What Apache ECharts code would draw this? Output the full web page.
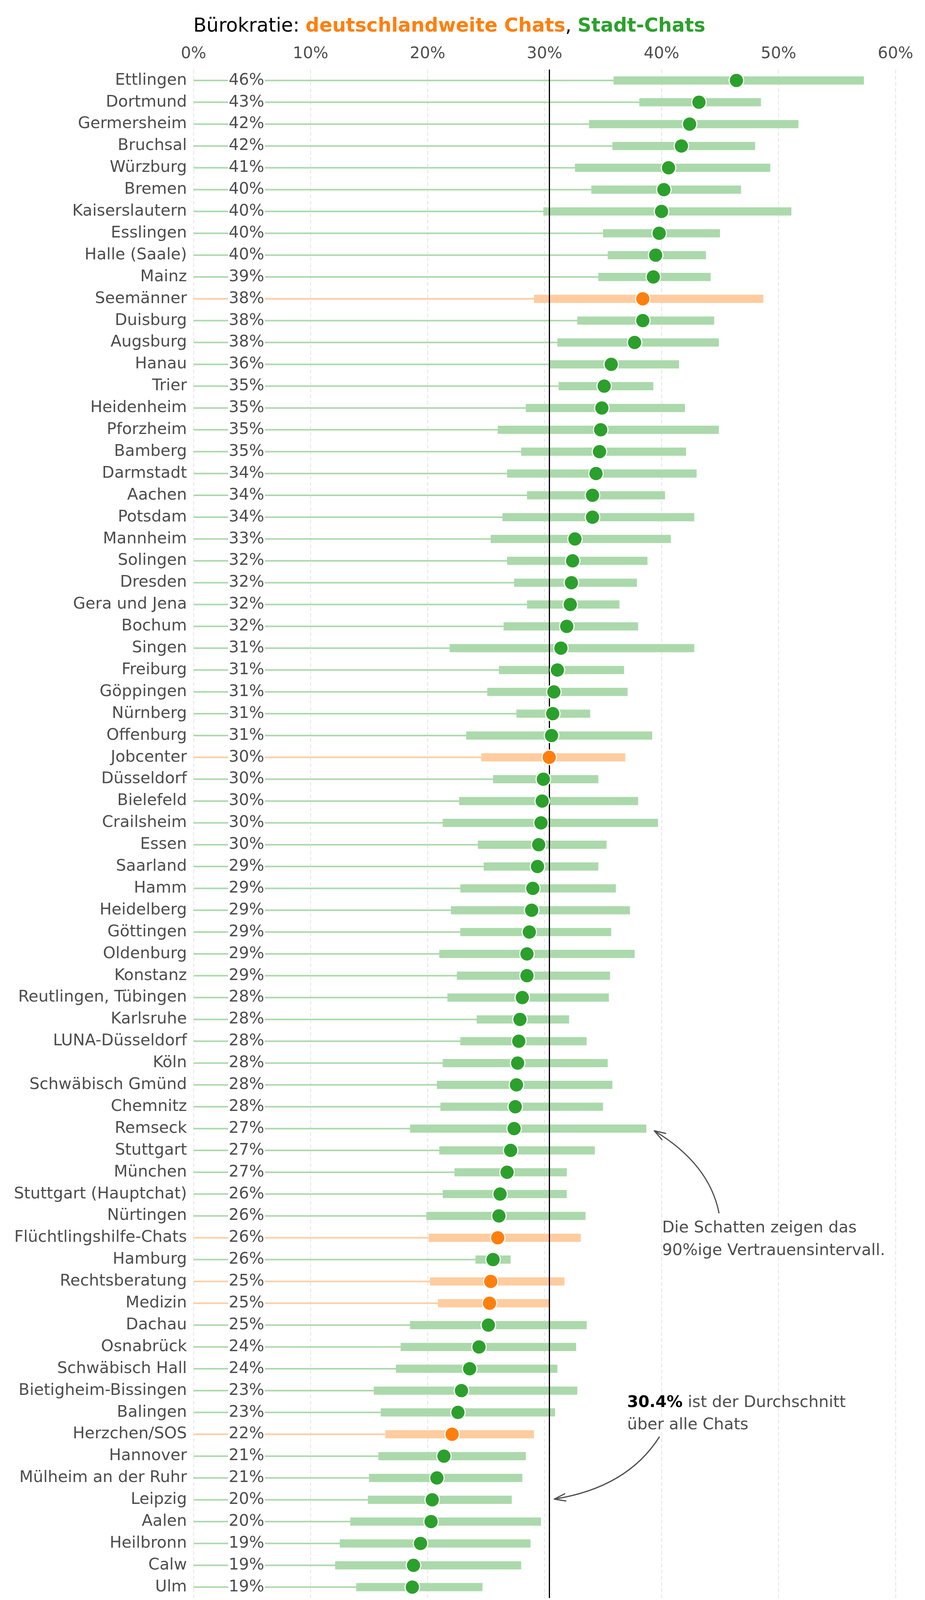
<!DOCTYPE html>
<html>
<head>
<meta charset="utf-8">
<script src="https://cdn.jsdelivr.net/npm/echarts@6/dist/echarts.min.js"></script>
<style>
  html, body { margin: 0; padding: 0; background: #fff; }
  #chart { width: 2368px; height: 4178px; }
</style>
</head>
<body>
<div id="chart"></div>
<script>
// Bürokratie-Anteil je Chat, Punkt = Schätzwert, Balken = 90%-Vertrauensintervall
var names = [
  "Ettlingen", "Dortmund", "Germersheim", "Bruchsal", "Würzburg", "Bremen",
  "Kaiserslautern", "Esslingen", "Halle (Saale)", "Mainz", "Seemänner", "Duisburg",
  "Augsburg", "Hanau", "Trier", "Heidenheim", "Pforzheim", "Bamberg", "Darmstadt",
  "Aachen", "Potsdam", "Mannheim", "Solingen", "Dresden", "Gera und Jena", "Bochum",
  "Singen", "Freiburg", "Göppingen", "Nürnberg", "Offenburg", "Jobcenter",
  "Düsseldorf", "Bielefeld", "Crailsheim", "Essen", "Saarland", "Hamm", "Heidelberg",
  "Göttingen", "Oldenburg", "Konstanz", "Reutlingen, Tübingen", "Karlsruhe",
  "LUNA-Düsseldorf", "Köln", "Schwäbisch Gmünd", "Chemnitz", "Remseck", "Stuttgart",
  "München", "Stuttgart (Hauptchat)", "Nürtingen", "Flüchtlingshilfe-Chats", "Hamburg",
  "Rechtsberatung", "Medizin", "Dachau", "Osnabrück", "Schwäbisch Hall",
  "Bietigheim-Bissingen", "Balingen", "Herzchen/SOS", "Hannover", "Mülheim an der Ruhr",
  "Leipzig", "Aalen", "Heilbronn", "Calw", "Ulm"
];
// deutschlandweite Chats (orange)
var nationalChats = ["Seemänner", "Jobcenter", "Flüchtlingshilfe-Chats", "Rechtsberatung", "Medizin", "Herzchen/SOS"];

var values = [
  46.4, 43.2, 42.4, 41.7, 40.6, 40.2, 40.0, 39.8, 39.5, 39.3,
  38.4, 38.4, 37.7, 35.7, 35.1, 34.9, 34.8, 34.7, 34.4, 34.1,
  34.1, 32.6, 32.4, 32.3, 32.2, 31.9, 31.4, 31.1, 30.8, 30.7,
  30.6, 30.4, 29.9, 29.8, 29.7, 29.5, 29.4, 29.0, 28.9, 28.7,
  28.5, 28.5, 28.1, 27.9, 27.8, 27.7, 27.6, 27.5, 27.4, 27.1,
  26.8, 26.2, 26.1, 26.0, 25.6, 25.4, 25.3, 25.2, 24.4, 23.6,
  22.9, 22.6, 22.1, 21.4, 20.8, 20.4, 20.3, 19.4, 18.8, 18.7
];
var ciLow = [
  35.9, 38.1, 33.8, 35.8, 32.6, 34.0, 29.9, 35.0, 35.4, 34.6,
  29.1, 32.8, 31.1, 30.4, 31.2, 28.4, 26.0, 28.0, 26.8, 28.5,
  26.4, 25.4, 26.8, 27.4, 28.5, 26.5, 21.9, 26.1, 25.1, 27.6,
  23.3, 24.6, 25.6, 22.7, 21.3, 24.3, 24.8, 22.8, 22.0, 22.8,
  21.0, 22.5, 21.7, 24.2, 22.8, 21.3, 20.8, 21.1, 18.5, 21.0,
  22.3, 21.3, 19.9, 20.1, 24.1, 20.2, 20.9, 18.5, 17.7, 17.3,
  15.4, 16.0, 16.4, 15.8, 15.0, 14.9, 13.4, 12.5, 12.1, 13.9
];
var ciHigh = [
  57.3, 48.5, 51.7, 48.0, 49.3, 46.8, 51.1, 45.0, 43.8, 44.2,
  48.7, 44.5, 44.9, 41.5, 39.3, 42.0, 44.9, 42.1, 43.0, 40.3,
  42.8, 40.8, 38.8, 37.9, 36.4, 38.0, 42.8, 36.8, 37.1, 33.9,
  39.2, 36.9, 34.6, 38.0, 39.7, 35.3, 34.6, 36.1, 37.3, 35.7,
  37.7, 35.6, 35.5, 32.1, 33.6, 35.4, 35.8, 35.0, 38.7, 34.3,
  31.9, 31.9, 33.5, 33.1, 27.1, 31.7, 30.4, 33.6, 32.7, 31.1,
  32.8, 30.9, 29.1, 28.4, 28.1, 27.2, 29.7, 28.8, 28.0, 24.7
];
var average = 30.4;

var FONT = "DejaVu Sans";
var TEXT = "#4d4d4d";
var GREEN = "#2ca02c", GREEN_LIGHT = "#abd9ab";
var ORANGE = "#ff7f0e", ORANGE_LIGHT = "#ffcc9f";

function isNational(i) {
  return nationalChats.indexOf(names[i]) >= 0;
}

var rangeData = values.map(function (v, i) {
  return [v, ciLow[i], ciHigh[i], i];
});
var pointData = values.map(function (v, i) {
  return { value: [v, i], itemStyle: { color: isNational(i) ? ORANGE : GREEN } };
});

var myChart = echarts.init(document.getElementById("chart"));

var option = {
  animation: false,
  backgroundColor: "#fff",
  textStyle: { fontFamily: FONT },
  title: {
    text: "{a|Bürokratie: }{o|deutschlandweite Chats}{a|, }{g|Stadt-Chats}",
    left: 495,
    top: 38,
    padding: 0,
    textStyle: {
      fontSize: 49,
      fontWeight: "normal",
      fontFamily: FONT,
      rich: {
        a: { color: "#000", fontSize: 49, fontFamily: FONT, fontWeight: "normal", lineHeight: 60 },
        o: { color: ORANGE, fontSize: 49, fontFamily: FONT, fontWeight: "bold", lineHeight: 60 },
        g: { color: GREEN, fontSize: 49, fontFamily: FONT, fontWeight: "bold", lineHeight: 60 }
      }
    }
  },
  grid: { left: 495.5, right: 75.5, top: 178, bottom: 87 },
  xAxis: [
    {
      type: "value", position: "bottom", min: 0, max: 60, interval: 10,
      axisLine: { show: false }, axisTick: { show: false },
      axisLabel: { formatter: "{value}%", fontSize: 41, color: TEXT, fontFamily: FONT, margin: 14 },
      splitLine: { show: true, lineStyle: { color: "#e3e3e3", width: 2, type: [10, 6] } }
    },
    {
      type: "value", position: "top", min: 0, max: 60, interval: 10,
      axisLine: { show: false }, axisTick: { show: false },
      axisLabel: { formatter: "{value}%", fontSize: 41, color: TEXT, fontFamily: FONT, margin: 19 },
      splitLine: { show: false }
    }
  ],
  yAxis: {
    type: "category",
    inverse: true,
    data: names,
    axisLine: { show: false }, axisTick: { show: false }, splitLine: { show: false },
    axisLabel: { interval: 0, fontSize: 41, color: TEXT, fontFamily: FONT, margin: 17 }
  },
  series: [
    {
      type: "custom",
      z: 2,
      encode: { x: [0, 1, 2], y: 3 },
      data: rangeData,
      renderItem: function (params, api) {
        var val = api.value(0), lo = api.value(1), hi = api.value(2), row = api.value(3);
        var light = isNational(row) ? ORANGE_LIGHT : GREEN_LIGHT;
        var p0 = api.coord([0, row]);
        var pv = api.coord([val, row]);
        var pl = api.coord([lo, row]);
        var ph = api.coord([hi, row]);
        var y = p0[1];
        var labelX = p0[0] + 135.5;
        return {
          type: "group",
          children: [
            { type: "rect", shape: { x: p0[0], y: y - 2, width: pv[0] - p0[0], height: 4 }, style: { fill: light } },
            { type: "rect", shape: { x: labelX - 47, y: y - 6, width: 94, height: 12 }, style: { fill: "#fff" } },
            {
              type: "text",
              style: {
                text: Math.round(val) + "%", x: labelX, y: y,
                textAlign: "center", textVerticalAlign: "middle",
                fill: TEXT, font: "41px '" + FONT + "'"
              }
            },
            { type: "rect", shape: { x: pl[0], y: y - 10.5, width: ph[0] - pl[0], height: 21 }, style: { fill: light } }
          ]
        };
      }
    },
    {
      type: "scatter",
      z: 10,
      symbol: "circle",
      symbolSize: 37,
      itemStyle: { borderColor: "#fff", borderWidth: 3, opacity: 1 },
      data: pointData,
      markLine: {
        silent: true,
        z: 5,
        symbol: ["none", "none"],
        label: { show: false },
        lineStyle: { color: "#000", width: 3, type: "solid" },
        data: [{ xAxis: average }]
      }
    }
  ]
};
myChart.setOption(option);

// Anmerkungen mit Pfeilen (Positionen in Daten-Einheiten: x in %, y in Zeilen)
var r0 = myChart.convertToPixel({ xAxisIndex: 0, yAxisIndex: 0 }, [0, 0]);
var r1 = myChart.convertToPixel({ xAxisIndex: 0, yAxisIndex: 0 }, [0, 1]);
function pt(x, row) {
  var px = myChart.convertToPixel({ xAxisIndex: 0, yAxisIndex: 0 }, [x, 0])[0];
  return [px, r0[1] + row * (r1[1] - r0[1])];
}
function arrow(s, c, e) {
  var dx = c[0] - e[0], dy = c[1] - e[1];
  var len = Math.sqrt(dx * dx + dy * dy);
  dx /= len; dy /= len;
  var a = 18 * Math.PI / 180, L = 30;
  function rot(sign) {
    var ca = Math.cos(a), sa = Math.sin(a) * sign;
    return [e[0] + L * (dx * ca - dy * sa), e[1] + L * (dx * sa + dy * ca)];
  }
  return [
    {
      type: "bezierCurve",
      shape: { x1: s[0], y1: s[1], x2: e[0], y2: e[1], cpx1: c[0], cpy1: c[1] },
      style: { stroke: TEXT, lineWidth: 3, fill: null }
    },
    {
      type: "polyline",
      shape: { points: [rot(1), e, rot(-1)] },
      style: { stroke: TEXT, lineWidth: 3, fill: null, lineCap: "round", lineJoin: "round" }
    }
  ];
}
function label(x, row, text, rich) {
  var p = pt(x, row);
  return {
    type: "text", x: p[0], y: p[1],
    style: {
      text: text, fill: TEXT, font: "41px '" + FONT + "'",
      textAlign: "left", textVerticalAlign: "middle", rich: rich
    }
  };
}

var richAvg = {
  b: { fontSize: 41, fontFamily: FONT, fontWeight: "bold", fill: "#000", color: "#000" },
  n: { fontSize: 41, fontFamily: FONT, fill: TEXT, color: TEXT }
};

var graphics = []
  .concat(arrow(pt(44.92, 51.88), pt(44.09, 49.62), pt(39.38, 48.10)))
  .concat(arrow(pt(39.83, 62.11), pt(37.08, 64.44), pt(30.83, 64.97)))
  .concat([
    label(40.05, 52.56, "Die Schatten zeigen das"),
    label(40.05, 53.60, "90%ige Vertrauensintervall."),
    label(37.06, 60.57, "{b|30.4%}{n| ist der Durchschnitt}", richAvg),
    label(37.06, 61.59, "über alle Chats")
  ]);

myChart.setOption({ graphic: { elements: graphics } });
</script>
</body>
</html>
